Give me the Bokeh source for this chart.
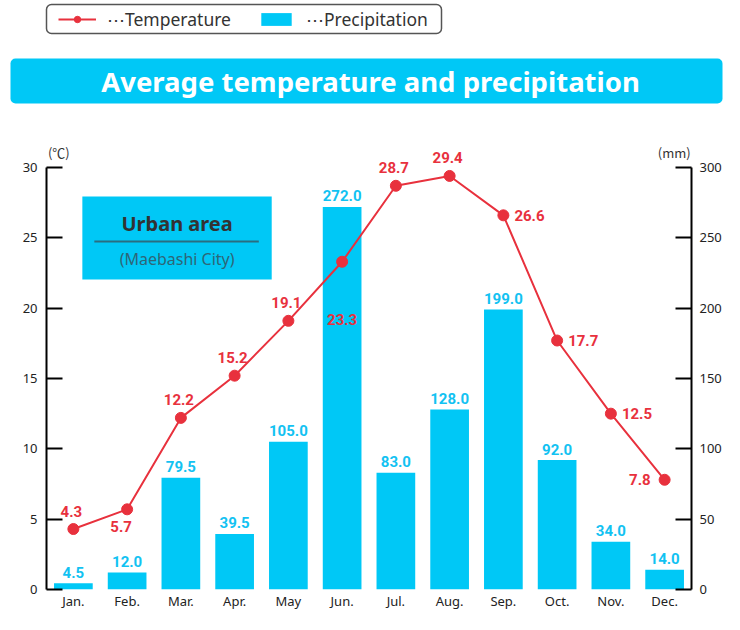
from bokeh.plotting import figure
from bokeh.models import (Range1d, LinearAxis, FixedTicker, ColumnDataSource,
                          Legend, LegendItem, Label)
from bokeh.embed import file_html
from bokeh.resources import INLINE
from bokeh.core.properties import value

# ---------------- data ----------------
months = ["Jan.", "Feb.", "Mar.", "Apr.", "May", "Jun.",
          "Jul.", "Aug.", "Sep.", "Oct.", "Nov.", "Dec."]
temperature = [4.3, 5.7, 12.2, 15.2, 19.1, 23.3, 28.7, 29.4, 26.6, 17.7, 12.5, 7.8]
precipitation = [4.5, 12.0, 79.5, 39.5, 105.0, 272.0, 83.0, 128.0, 199.0, 92.0, 34.0, 14.0]
temp_label_side = ["above", "below", "above", "above", "above", "under",
                   "above", "above", "right", "right", "right", "left"]
temp_ticks = [0, 5, 10, 15, 20, 25, 30]
precip_ticks = [0, 50, 100, 150, 200, 250, 300]

title_text = "Average temperature and precipitation"
area_title = "Urban area"
area_sub = "(Maebashi City)"

# ---------------- style ----------------
RED = "#e8313d"
CYAN = "#00c8f6"
CYAN_TXT = "#12c2f2"
DARK = "#222222"
W, H = 724, 614
HDR_H = 112
MAIN_H = H - HDR_H
LEFT, RIGHT, BOTTOM = 46, 31, 25
PX_PER_UNIT = (H - BOTTOM - 167) / 30.0
Y_END = (MAIN_H - BOTTOM) / PX_PER_UNIT
NUM_FONT = value("Roboto")
TXT_FONT = value("Noto Sans")

# ---------------- main chart ----------------
p = figure(width=W, height=MAIN_H, x_range=Range1d(-0.5, 11.5), y_range=Range1d(0, Y_END),
           output_backend="svg", toolbar_location=None,
           min_border_left=LEFT, min_border_right=RIGHT,
           min_border_top=0, min_border_bottom=BOTTOM,
           x_axis_location=None, y_axis_location=None)
p.extra_y_ranges = {"precip": Range1d(0, Y_END * 10)}
p.grid.visible = False
p.outline_line_color = None
p.background_fill_color = "white"
p.border_fill_color = "white"

def style_axis(ax, standoff):
    ax.axis_line_color = "black"
    ax.axis_line_width = 2
    ax.major_tick_line_color = "black"
    ax.major_tick_line_width = 2
    ax.major_tick_in = 16
    ax.major_tick_out = 0
    ax.minor_tick_line_color = None
    ax.major_label_text_font = "Noto Sans"
    ax.major_label_text_font_size = "13px"
    ax.major_label_text_color = DARK
    ax.major_label_standoff = standoff

left_ax = LinearAxis(ticker=FixedTicker(ticks=temp_ticks), bounds=(0, 30))
style_axis(left_ax, 9)
p.add_layout(left_ax, "left")

right_ax = LinearAxis(y_range_name="precip", ticker=FixedTicker(ticks=precip_ticks), bounds=(0, 300))
style_axis(right_ax, 8)
p.add_layout(right_ax, "right")

xs = list(range(len(months)))
bottom_ax = LinearAxis(ticker=FixedTicker(ticks=xs),
                       major_label_overrides={i: m for i, m in zip(xs, months)})
bottom_ax.axis_line_color = None
bottom_ax.major_tick_line_color = None
bottom_ax.minor_tick_line_color = None
bottom_ax.major_tick_in = 0
bottom_ax.major_tick_out = 0
bottom_ax.major_label_text_font = "Noto Sans"
bottom_ax.major_label_text_font_size = "13px"
bottom_ax.major_label_text_color = DARK
bottom_ax.major_label_standoff = 2
p.add_layout(bottom_ax, "below")

src = ColumnDataSource(data=dict(
    x=xs, month=months, temp=temperature, precip=precipitation,
    precip_txt=[f"{v:.1f}" for v in precipitation],
))

# inset box (positions chosen to match the page layout)
def ypix(page_y):
    return (H - BOTTOM - page_y) / PX_PER_UNIT

p.quad(left=[0.167], right=[3.69], top=[ypix(196)], bottom=[ypix(279)], fill_color=CYAN, line_color=None)
p.segment(x0=[0.39], y0=[ypix(241)], x1=[3.45], y1=[ypix(241)], line_color="#2a6d80", line_width=2)
p.text(x=[1.93], y=[ypix(223)], text=[area_title], text_font=TXT_FONT, text_font_style="bold",
       text_font_size="20px", text_color="#333333", text_align="center", text_baseline="middle")
p.text(x=[1.93], y=[ypix(258)], text=[area_sub], text_font=TXT_FONT,
       text_font_size="16px", text_color="#2e6677", text_align="center", text_baseline="middle")

# bars
p.vbar(x="x", top="precip", width=0.72, source=src, y_range_name="precip",
       fill_color=CYAN, line_color=None)
p.text(x="x", y="precip", text="precip_txt", source=src, y_range_name="precip",
       text_font=NUM_FONT, text_font_style="bold", text_font_size="15px",
       text_color=CYAN_TXT, text_align="center", text_baseline="middle", y_offset=-11)

# temperature line
p.line(x="x", y="temp", source=src, line_color=RED, line_width=2)
p.scatter(x="x", y="temp", source=src, size=11, fill_color=RED, line_color=RED)

side_style = {"above": (-2, -18, "center"), "below": (-6, 17, "center"),
              "under": (0, 58, "center"), "right": (11, 0, "left"), "left": (-14, 0, "right")}
for side, (dx, dy, align) in side_style.items():
    idx = [i for i, s in enumerate(temp_label_side) if s == side]
    if not idx:
        continue
    p.text(x=[xs[i] for i in idx], y=[temperature[i] for i in idx],
           text=[f"{temperature[i]:.1f}" for i in idx],
           text_font=NUM_FONT, text_font_style="bold", text_font_size="15px",
           text_color=RED, text_align=align, text_baseline="middle",
           x_offset=dx, y_offset=dy)

# unit labels
p.add_layout(Label(x=-0.27, y=ypix(152), text="(\u2103)", text_font="Noto Sans CJK JP",
                   text_font_size="13px", text_color="#333333",
                   text_align="center", text_baseline="middle"))
p.add_layout(Label(x=11.18, y=ypix(152), text="(mm)", text_font="Noto Sans CJK JP",
                   text_font_size="13px", text_color="#333333",
                   text_align="center", text_baseline="middle"))

# ---------------- header: legend + title bar ----------------
hdr = figure(width=W, height=HDR_H, x_range=Range1d(0, W), y_range=Range1d(HDR_H, 0),
             output_backend="svg", toolbar_location=None, min_border=0,
             x_axis_location=None, y_axis_location=None)
hdr.grid.visible = False
hdr.outline_line_color = None
hdr.background_fill_color = "white"
hdr.border_fill_color = "white"

# legend frame
hdr.quad(left=[46], right=[441], top=[4], bottom=[33], fill_color="white",
         line_color="#555555", line_width=1.5, border_radius=5)
# legend swatch renderers (off-canvas data, only used for the legend glyphs)
off = ColumnDataSource(data=dict(x=[-100, -90], y=[-100, -100]))
lr = hdr.line("x", "y", source=off, line_color=RED, line_width=2)
sr = hdr.scatter("x", "y", source=off, size=9, fill_color=RED, line_color=RED)
br = hdr.vbar(x="x", top="y", width=1, source=off, fill_color=CYAN, line_color=None)
legend = Legend(items=[LegendItem(label="\u22efTemperature", renderers=[lr, sr]),
                       LegendItem(label="\u22efPrecipitation", renderers=[br])],
                location=(58, HDR_H - 31), orientation="horizontal",
                padding=0, spacing=26, margin=0,
                glyph_width=38, glyph_height=16, label_height=16, label_standoff=11,
                label_text_font="Noto Sans", label_text_font_size="17.5px",
                label_text_color="#333333",
                border_line_color=None, background_fill_alpha=0)
hdr.add_layout(legend)

# title bar
hdr.quad(left=[10], right=[722], top=[58], bottom=[103], fill_color=CYAN,
         line_color=None, border_radius=5)
hdr.text(x=[370], y=[80.5], text=[title_text], text_font=TXT_FONT,
         text_font_style="bold", text_font_size="27.5px", text_color="white",
         text_align="center", text_baseline="middle")

open("out.html", "w").write(file_html([hdr, p], INLINE))
